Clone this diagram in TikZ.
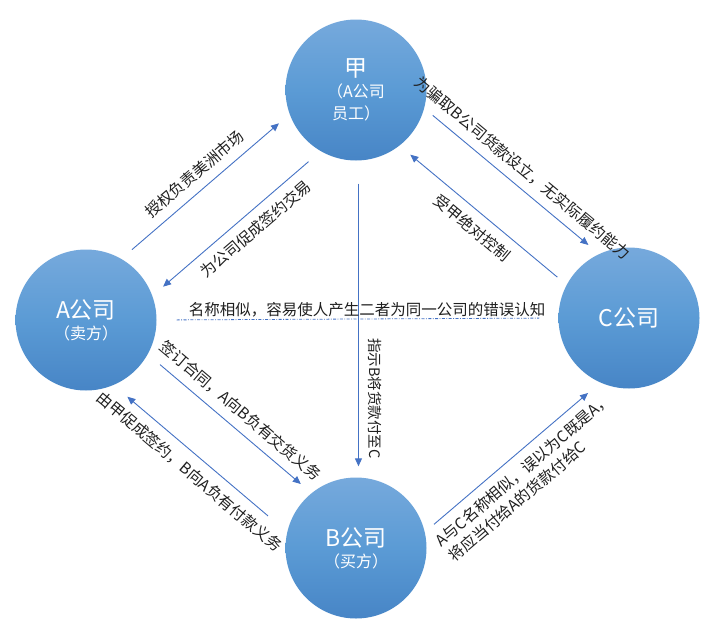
\documentclass[tikz,border=0pt]{standalone}
\usepackage{fontspec}
\setmainfont{Noto Sans CJK SC}
\usetikzlibrary{arrows.meta}
\definecolor{linkblue}{HTML}{4472C4}
\definecolor{firmtop}{HTML}{76A9DC}
\definecolor{firmmid}{HTML}{5B9BD5}
\definecolor{firmbot}{HTML}{4785C6}
\definecolor{ink}{HTML}{1F1F1F}

\begin{document}
\begin{tikzpicture}[x=1pt, y=-1pt, >={Triangle[length=8pt,width=7pt]},
    firm/.style={circle, minimum size=141pt, inner sep=0pt, top color=firmtop, bottom color=firmbot, middle color=firmmid, text=white, align=center, font=\fontsize{16}{25}\selectfont},
    link/.style={->, linkblue, line width=0.9pt, shorten <=14pt, shorten >=14pt},
    tag/.style={text=ink, font=\fontsize{15.5}{20}\selectfont, inner xsep=0pt, inner ysep=9pt}]
        \useasboundingbox (0,0) rectangle (715,637);

        \node [firm] (jia) at (356,90) {{\fontsize{23}{25}\selectfont 甲}\\[-4pt]（A公司\\[-3pt]员工）};
        \node [firm] (firmA) at (86,320) {{\fontsize{23}{26}\selectfont A公司}\\[-4pt]（卖方）};
        \node [firm] (firmC) at (629,318) {{\fontsize{23}{26}\selectfont C公司}};
        \node [firm] (firmB) at (356,548) {{\fontsize{23}{26}\selectfont B公司}\\[-4pt]（买方）};

        \draw [link] (firmA.60.7) -- node [tag, sloped, above] {授权负责美洲市场} (jia.200.7);
        \draw [link, shorten <=16pt] (jia.240.7) -- node [tag, sloped, below, pos=0.45] {为公司促成签约交易} (firmA.20.7);

        \draw [link, shorten <=11pt] (jia.-15.6) -- node [tag, sloped, above] {为骗取B公司货款设立，无实际履约能力} (firmC.115.4);
        \draw [link, shorten <=12pt] (firmC.152.3) -- node [tag, sloped, below] {受甲绝对控制} (jia.-52.5);

        \draw [link, shorten <=23pt, shorten >=11pt] (jia.-88.4) -- node [tag, font=\fontsize{14.5}{18}\selectfont, rotate=-90, anchor=south, pos=0.75] {指示B将货款付至C} (firmB.88.4);

        \draw [link, shorten <=16pt] (firmA.-29.5) -- node [tag, sloped, above] {签订合同，A向B负有交货义务} (firmB.129.1);
        \draw [link, shorten <=25pt, shorten >=18pt] (firmB.167) -- node [tag, sloped, below] {由甲促成签约，B向A负有付款义务} (firmA.-67.4);

        \draw [link, shorten <=12pt, shorten >=16pt] (firmB.13.8) -- node [tag, sloped, below, align=left, pos=0.5] {A与C名称相似，误以为C既是A，\\将应当付给A的货款付给C} (firmC.246.4);

        \draw [linkblue, line width=0.8pt, dash pattern=on 3pt off 1.5pt on 0.8pt off 1.5pt, shorten <=20pt, shorten >=19pt] (firmA.east) -- node [tag, above, inner ysep=1pt, pos=0.524] {名称相似，容易使人产生二者为同一公司的错误认知} (firmC.west);
    \end{tikzpicture}
\end{document}
